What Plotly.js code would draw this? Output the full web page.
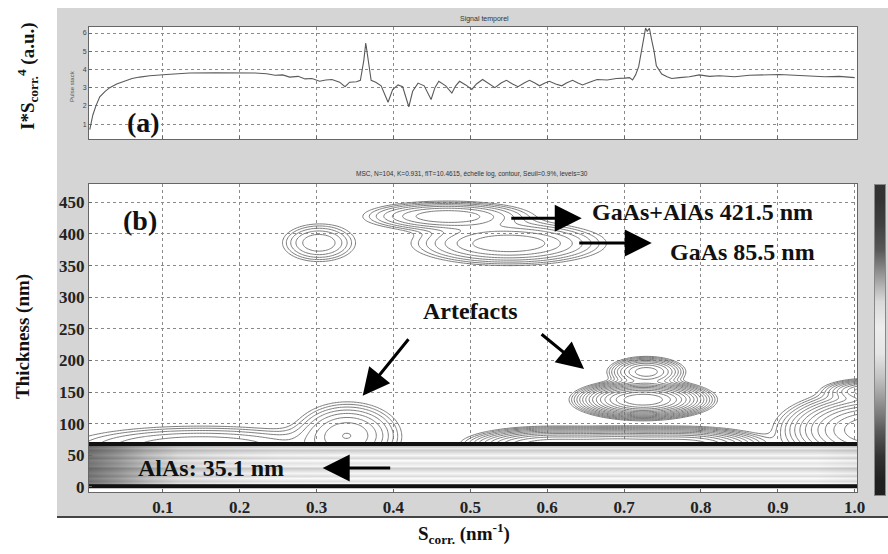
<!DOCTYPE html>
<html><head><meta charset="utf-8">
<script src="https://cdn.plot.ly/plotly-3.0.1.min.js"></script>
<style>html,body{margin:0;padding:0;background:#fff}#c{width:888px;height:554px}</style>
</head><body><div id="c"></div>
<script>
// ---- panel (a): time signal ----
const sigX = [0.005,0.009,0.013,0.018,0.025,0.031,0.040,0.049,0.060,0.070,0.083,0.105,0.135,0.168,0.200,0.220,0.235,0.246,0.256,0.265,0.276,0.285,0.294,0.304,0.312,0.320,0.330,0.337,0.343,0.352,0.357,0.3615,0.364,0.367,0.371,0.377,0.384,0.393,0.399,0.406,0.412,0.420,0.425,0.432,0.440,0.449,0.454,0.459,0.468,0.476,0.481,0.486,0.494,0.502,0.508,0.516,0.524,0.532,0.540,0.547,0.555,0.562,0.570,0.577,0.584,0.590,0.597,0.603,0.611,0.619,0.625,0.633,0.640,0.646,0.655,0.665,0.678,0.690,0.701,0.707,0.711,0.715,0.719,0.723,0.726,0.728,0.730,0.733,0.736,0.739,0.742,0.749,0.756,0.762,0.772,0.785,0.798,0.811,0.824,0.844,0.863,0.883,0.902,0.922,0.941,0.961,0.980,1.000];
const sigY = [0.7,1.5,2.0,2.5,2.8,3.0,3.2,3.35,3.5,3.58,3.65,3.72,3.8,3.82,3.82,3.8,3.76,3.68,3.7,3.58,3.62,3.48,3.5,3.35,3.42,3.45,3.3,3.05,3.3,3.32,3.4,4.5,5.45,4.6,3.4,3.3,3.1,2.2,2.9,3.15,3.05,1.95,2.8,3.25,3.1,2.35,3.0,3.35,3.1,2.7,3.1,3.35,3.15,2.9,3.2,3.45,3.2,3.0,3.25,3.4,3.2,3.05,3.25,3.4,3.25,3.1,3.25,3.35,3.2,3.1,3.25,3.4,3.25,3.15,3.3,3.45,3.42,3.5,3.52,3.55,3.42,3.7,4.15,5.2,6.0,6.27,6.1,6.25,5.6,5.0,4.2,3.75,3.6,3.5,3.55,3.6,3.7,3.62,3.65,3.6,3.68,3.7,3.72,3.68,3.65,3.6,3.62,3.55];

// ---- panel (b): contour peaks (S_corr, thickness nm, widths, amplitude) ----
const peakX   = [0.303, 0.47, 0.55, 0.725, 0.729, 1.03, 1.02, 0.34, 0.15, 0.60, 0.69, 0.78];
const peakY   = [386,   428,  385,  138,   182,   90,   152,  82,   64,   66,   66,   66];
const peakSX  = [0.0255,0.05, 0.058,0.030, 0.021, 0.045,0.025,0.032,0.09, 0.042,0.042,0.042];
const peakSY  = [16,    11,   16,   10.3,  10,    22,   8,    24,   17,   11,   11,   11];
const peakAmp = [5.6,   11,   11,   178,   20,    100,  20,   11,   6,    40,   40,   40];

// AlAs band (0-70 nm) shading
const bandY     = [1.5,4,7,10,14,18,22,26,30,34,38,42,46,50,54,58,62,66];
const bandRow   = [0.72,0.86,0.98,0.88,0.99,0.86,0.97,0.9,0.8,0.97,0.9,0.99,0.84,0.97,0.9,0.8,0.92,0.7];
const bandX     = [0.005,0.04,0.08,0.12,0.18,0.25,0.35,0.5,0.65,0.8,0.95,1.003];
const bandCol   = [0.5,0.62,0.78,0.9,0.95,0.99,1,1,1,1,1,0.96];
const bandEdgeY = [68, 1];

// colour bar shading, bottom to top
const cbarShade = [0.12,0.2,0.35,0.55,0.75,0.9,0.93,0.85,0.6,0.35,0.25,0.2];

const xTicks = [0.1,0.2,0.3,0.4,0.5,0.6,0.7,0.8,0.9,1.0];
const xTickText = ['0.1','0.2','0.3','0.4','0.5','0.6','0.7','0.8','0.9','1.0'];
const yTicksA = [1,2,3,4,5,6];
const yTicksB = [0,50,100,150,200,250,300,350,400,450];

const W=888,H=554;
const px=v=>v/W, py=v=>1-v/H;
const XR=[0.004,1.003], YRB=[-8,479];

// contour grid
const gx=[],gy=[];
for(let i=0;i<=250;i++) gx.push(XR[0]+i*(XR[1]-XR[0])/250);
for(let y=-8;y<=480;y+=2) gy.push(y);
const gz=gy.map(y=>gx.map(x=>{
  let s=1e-9;
  for(let k=0;k<peakX.length;k++){
    const dx=(x-peakX[k])/peakSX[k], dy=(y-peakY[k])/peakSY[k];
    s+=peakAmp[k]*Math.exp(-0.5*(dx*dx+dy*dy));
  }
  return Math.log10(s);
}));
const bandZ=bandRow.map(r=>bandCol.map(c=>r*c));

const serif='Liberation Serif, Times New Roman, serif';
const sans='Liberation Sans, Arial, sans-serif';

const traces=[
 {type:'scatter',mode:'lines',x:sigX,y:sigY,xaxis:'x',yaxis:'y',line:{color:'#5a5a5a',width:1.1},hoverinfo:'skip'},
 {type:'contour',x:gx,y:gy,z:gz,xaxis:'x2',yaxis:'y2',showscale:false,hoverinfo:'skip',
  contours:{start:0,end:2.4,size:0.15,coloring:'none'},line:{color:'#6e6e6e',width:0.9,smoothing:1}},
 {type:'heatmap',x:bandX,y:bandY,z:bandZ,xaxis:'x4',yaxis:'y4',zmin:0,zmax:1,zsmooth:'best',
  colorscale:[[0,'#000'],[1,'#fff']],showscale:false,hoverinfo:'skip'},
 {type:'scatter',mode:'lines',x:XR,y:[bandEdgeY[0],bandEdgeY[0]],xaxis:'x4',yaxis:'y4',line:{color:'#111',width:4},hoverinfo:'skip'},
 {type:'scatter',mode:'lines',x:XR,y:[bandEdgeY[1],bandEdgeY[1]],xaxis:'x4',yaxis:'y4',line:{color:'#111',width:4},hoverinfo:'skip'},
 {type:'heatmap',z:cbarShade.map(v=>[v]),xaxis:'x3',yaxis:'y3',zmin:0,zmax:1,zsmooth:'best',
  colorscale:[[0,'#000'],[1,'#fff']],showscale:false,hoverinfo:'skip'}
];

const grid={showgrid:true,gridcolor:'#8a8a8a',griddash:'dot',gridwidth:1,zeroline:false,showline:true,mirror:true,linecolor:'#666',linewidth:1,ticks:'inside',ticklen:3,tickcolor:'#666'};

function arrow(x,y,ax,ay){return {xref:'x2',yref:'y2',x,y,ax,ay,text:'',showarrow:true,arrowhead:2,arrowsize:1.8,arrowwidth:3,arrowcolor:'#000'};}
function lab(text,x,y,size,opts){return Object.assign({xref:'paper',yref:'paper',x:px(x),y:py(y),text,showarrow:false,xanchor:'center',yanchor:'middle',font:{family:serif,size,color:'#111',weight:'bold'}},opts||{});}

const layout={
 width:W,height:H,margin:{l:0,r:0,t:0,b:0},paper_bgcolor:'#fff',plot_bgcolor:'#fff',showlegend:false,
 xaxis:Object.assign({},grid,{domain:[px(89),px(857)],range:XR,anchor:'y',tickvals:xTicks.slice(0,9),showticklabels:false}),
 yaxis:Object.assign({},grid,{domain:[py(139),py(27)],range:[0.18,6.33],anchor:'x',tickvals:yTicksA,tickfont:{family:sans,size:7,color:'#444'}}),
 xaxis2:Object.assign({},grid,{domain:[px(89),px(857)],range:XR,anchor:'y2',tickvals:xTicks,ticktext:xTickText,
   tickfont:{family:serif,size:17,color:'#222',weight:'bold'}}),
 yaxis2:Object.assign({},grid,{domain:[py(492),py(184)],range:YRB,anchor:'x2',tickvals:yTicksB,
   tickfont:{family:serif,size:17,color:'#222',weight:'bold'}}),
 xaxis4:{overlaying:'x2',range:XR,anchor:'y4',visible:false},
 yaxis4:{overlaying:'y2',range:YRB,anchor:'x4',visible:false},
 xaxis3:{domain:[px(875),px(885)],anchor:'y3',showticklabels:false,ticks:'',showgrid:false,zeroline:false,showline:true,mirror:true,linecolor:'#888'},
 yaxis3:{domain:[py(495),py(185)],anchor:'x3',showticklabels:false,ticks:'',showgrid:false,zeroline:false,showline:true,mirror:true,linecolor:'#888'},
 shapes:[
  {type:'rect',xref:'paper',yref:'paper',x0:px(57),x1:1,y0:py(517),y1:py(8),fillcolor:'#d5d5d5',line:{width:0},layer:'below'},
  {type:'rect',xref:'paper',yref:'paper',x0:px(89),x1:px(857),y0:py(139),y1:py(27),fillcolor:'#fff',line:{width:0},layer:'below'},
  {type:'rect',xref:'paper',yref:'paper',x0:px(89),x1:px(857),y0:py(492),y1:py(184),fillcolor:'#fff',line:{width:0},layer:'below'},
  {type:'line',xref:'paper',yref:'paper',x0:px(57),x1:1,y0:py(517),y1:py(517),line:{color:'#444',width:2}}
 ],
 annotations:[
  lab('Signal temporel',484,19,7,{font:{family:sans,size:7,color:'#333'}}),
  lab('Pulse stack',72,86,6,{textangle:-90,font:{family:sans,size:6,color:'#555'}}),
  lab('MSC, N=104, K=0.931, fIT=10.4615, échelle log, contour, Seuil=0.9%, levels=30',472,174,6.5,{font:{family:sans,size:6.5,color:'#333'}}),
  lab('I*S<sub>corr.</sub><sup>4</sup> (a.u.)',28,76,19,{textangle:-90}),
  lab('Thickness (nm)',23,337,19,{textangle:-90}),
  lab('S<sub>corr.</sub> (nm<sup>-1</sup>)',464,533,19),
  lab('(a)',143,122,28),
  lab('(b)',140,220,28),
  lab('GaAs+AlAs 421.5 nm',702,212,24),
  lab('GaAs 85.5 nm',742,252,24),
  lab('Artefacts',470,311,24),
  lab('AlAs: 35.1 nm',211,468,24),
  arrow(0.645,424.8,-72,0),
  arrow(0.736,385.6,-74,0),
  arrow(0.360,144.2,47,-58),
  arrow(0.648,186.5,-44,-36),
  arrow(0.308,29.8,69,0)
 ]
};
Plotly.newPlot('c',traces,layout,{staticPlot:true});
</script></body></html>
